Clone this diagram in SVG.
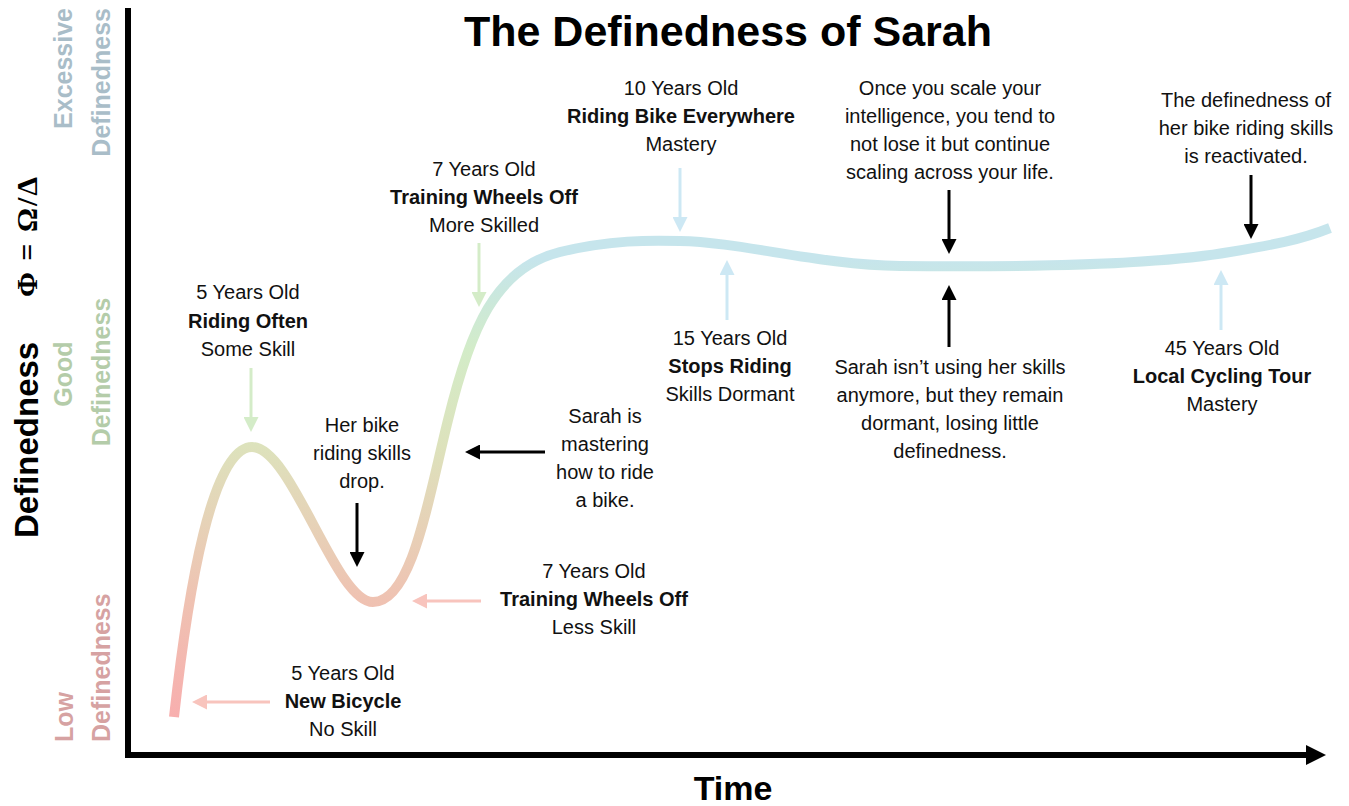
<svg xmlns="http://www.w3.org/2000/svg" width="1349" height="806" viewBox="0 0 1349 806">
  <style>
    .t { font-family: "Liberation Sans", Arial, sans-serif; font-size: 20px; fill: #111; text-anchor: middle; }
    .b { font-weight: bold; }
    .lvl { font-family: "Liberation Sans", Arial, sans-serif; font-size: 25px; font-weight: bold; }
    .k { fill: none; stroke: #000; stroke-width: 3; }
    .g { fill: none; stroke: #d4ecc8; stroke-width: 3; }
    .u { fill: none; stroke: #cde8f4; stroke-width: 3; }
    .p { fill: none; stroke: #f8c4bd; stroke-width: 3; }
  </style>
  <defs>
    <linearGradient id="curveGrad" gradientUnits="userSpaceOnUse" x1="0" y1="720" x2="0" y2="240">
      <stop offset="0" stop-color="#f8aeae"/>
      <stop offset="0.25" stop-color="#efc2b2"/>
      <stop offset="0.57" stop-color="#dde2bc"/>
      <stop offset="0.77" stop-color="#d3ecc8"/>
      <stop offset="0.9" stop-color="#c9e7e0"/>
      <stop offset="0.96" stop-color="#c6e5ec"/>
      <stop offset="1" stop-color="#c6e5ec"/>
    </linearGradient>
    <marker id="hk" markerUnits="userSpaceOnUse" markerWidth="15" markerHeight="15" refX="7" refY="7.5" orient="auto">
      <path d="M0,0 L15,7.5 L0,15 Z" fill="#000"/>
    </marker>
    <marker id="hg" markerUnits="userSpaceOnUse" markerWidth="15" markerHeight="15" refX="7" refY="7.5" orient="auto">
      <path d="M0,0 L15,7.5 L0,15 Z" fill="#d4ecc8"/>
    </marker>
    <marker id="hu" markerUnits="userSpaceOnUse" markerWidth="15" markerHeight="15" refX="7" refY="7.5" orient="auto">
      <path d="M0,0 L15,7.5 L0,15 Z" fill="#cde8f4"/>
    </marker>
    <marker id="hp" markerUnits="userSpaceOnUse" markerWidth="15" markerHeight="15" refX="7" refY="7.5" orient="auto">
      <path d="M0,0 L15,7.5 L0,15 Z" fill="#f8c4bd"/>
    </marker>
    <marker id="axisHead" markerUnits="userSpaceOnUse" markerWidth="20" markerHeight="20" refX="2" refY="10" orient="auto">
      <path d="M0,0 L20,10 L0,20 Z" fill="#000"/>
    </marker>
  </defs>

  <rect width="1349" height="806" fill="#fff"/>

  <!-- title -->
  <text x="728" y="46" font-family="Liberation Sans, Arial, sans-serif" font-size="43" font-weight="bold" text-anchor="middle" fill="#000">The Definedness of Sarah</text>

  <!-- axes -->
  <g id="axes">
    <path d="M128,8 V755 H1308" fill="none" stroke="#000" stroke-width="6" stroke-linejoin="miter" marker-end="url(#axisHead)"/>
    <text x="733" y="800" font-family="Liberation Sans, Arial, sans-serif" font-size="34" font-weight="bold" text-anchor="middle" fill="#000">Time</text>
    <g transform="translate(38,538) rotate(-90)">
      <text x="0" y="0" font-family="Liberation Sans, Arial, sans-serif" font-size="33" font-weight="bold" fill="#000">Definedness</text>
      <text x="241" y="-1" font-family="Liberation Serif, DejaVu Serif, serif" font-size="30" font-weight="bold" letter-spacing="2" fill="#000">Φ = Ω/Δ</text>
    </g>
  </g>

  <!-- level bands on the y axis -->
  <g id="level-excessive" fill="#a9bdc8">
    <text class="lvl" transform="translate(72,8) rotate(-90)" text-anchor="end">Excessive</text>
    <text class="lvl" transform="translate(110,8) rotate(-90)" text-anchor="end">Definedness</text>
  </g>
  <g id="level-good" fill="#b4cca9">
    <text class="lvl" transform="translate(72,374) rotate(-90)" text-anchor="middle">Good</text>
    <text class="lvl" transform="translate(110,372) rotate(-90)" text-anchor="middle">Definedness</text>
  </g>
  <g id="level-low" fill="#d6a2a2">
    <text class="lvl" transform="translate(73,742) rotate(-90)" text-anchor="start">Low</text>
    <text class="lvl" transform="translate(110,742) rotate(-90)" text-anchor="start">Definedness</text>
  </g>

  <!-- definedness curve -->
  <g id="curve">
    <path d="M174,717 C188,590 212,447 252,447 C292,447 335,602 373,602 C412,602 428,500 448,420 C470,330 495,268 560,252 C610,240 650,240 680,241 C740,242 820,265 900,266 C1000,267 1150,266 1230,252 C1272,245 1300,240 1330,228" fill="none" stroke="url(#curveGrad)" stroke-width="10" stroke-linecap="butt"/>
  </g>

  <!-- connectors -->
  <g id="connectors">
    <line class="g" x1="251" y1="368" x2="251" y2="424" marker-end="url(#hg)"/>
    <line class="k" x1="357" y1="503" x2="357" y2="559" marker-end="url(#hk)"/>
    <line class="p" x1="481" y1="601" x2="420" y2="601" marker-end="url(#hp)"/>
    <line class="p" x1="270" y1="702" x2="200" y2="702" marker-end="url(#hp)"/>
    <line class="g" x1="479" y1="243" x2="479" y2="299" marker-end="url(#hg)"/>
    <line class="k" x1="545" y1="452" x2="473" y2="452" marker-end="url(#hk)"/>
    <line class="u" x1="680" y1="168" x2="680" y2="224" marker-end="url(#hu)"/>
    <line class="u" x1="727" y1="320" x2="727" y2="268" marker-end="url(#hu)"/>
    <line class="k" x1="949" y1="190" x2="949" y2="246" marker-end="url(#hk)"/>
    <line class="k" x1="949" y1="347" x2="949" y2="293" marker-end="url(#hk)"/>
    <line class="k" x1="1251" y1="175" x2="1251" y2="231" marker-end="url(#hk)"/>
    <line class="u" x1="1221" y1="330" x2="1221" y2="278" marker-end="url(#hu)"/>
  </g>

  <!-- annotations -->
  <g id="n-riding-often">
    <text class="t" x="248" y="299">5 Years Old</text>
    <text class="t b" x="248" y="328">Riding Often</text>
    <text class="t" x="248" y="356">Some Skill</text>
  </g>
  <g id="n-more-skilled">
    <text class="t" x="484" y="176">7 Years Old</text>
    <text class="t b" x="484" y="204">Training Wheels Off</text>
    <text class="t" x="484" y="232">More Skilled</text>
  </g>
  <g id="n-everywhere">
    <text class="t" x="681" y="95">10 Years Old</text>
    <text class="t b" x="681" y="123">Riding Bike Everywhere</text>
    <text class="t" x="681" y="151">Mastery</text>
  </g>
  <g id="n-scale">
    <text class="t" x="950" y="95">Once you scale your</text>
    <text class="t" x="950" y="123">intelligence, you tend to</text>
    <text class="t" x="950" y="151">not lose it but continue</text>
    <text class="t" x="950" y="179">scaling across your life.</text>
  </g>
  <g id="n-reactivated">
    <text class="t" x="1246" y="107">The definedness of</text>
    <text class="t" x="1246" y="135">her bike riding skills</text>
    <text class="t" x="1246" y="163">is reactivated.</text>
  </g>
  <g id="n-stops">
    <text class="t" x="730" y="345">15 Years Old</text>
    <text class="t b" x="730" y="373">Stops Riding</text>
    <text class="t" x="730" y="401">Skills Dormant</text>
  </g>
  <g id="n-dormant">
    <text class="t" x="950" y="374">Sarah isn’t using her skills</text>
    <text class="t" x="950" y="402">anymore, but they remain</text>
    <text class="t" x="950" y="430">dormant, losing little</text>
    <text class="t" x="950" y="458">definedness.</text>
  </g>
  <g id="n-tour">
    <text class="t" x="1222" y="355">45 Years Old</text>
    <text class="t b" x="1222" y="383">Local Cycling Tour</text>
    <text class="t" x="1222" y="411">Mastery</text>
  </g>
  <g id="n-drop">
    <text class="t" x="362" y="432">Her bike</text>
    <text class="t" x="362" y="460">riding skills</text>
    <text class="t" x="362" y="488">drop.</text>
  </g>
  <g id="n-mastering">
    <text class="t" x="605" y="423">Sarah is</text>
    <text class="t" x="605" y="451">mastering</text>
    <text class="t" x="605" y="479">how to ride</text>
    <text class="t" x="605" y="507">a bike.</text>
  </g>
  <g id="n-less-skill">
    <text class="t" x="594" y="578">7 Years Old</text>
    <text class="t b" x="594" y="606">Training Wheels Off</text>
    <text class="t" x="594" y="634">Less Skill</text>
  </g>
  <g id="n-new-bicycle">
    <text class="t" x="343" y="680">5 Years Old</text>
    <text class="t b" x="343" y="708">New Bicycle</text>
    <text class="t" x="343" y="736">No Skill</text>
  </g>
</svg>
